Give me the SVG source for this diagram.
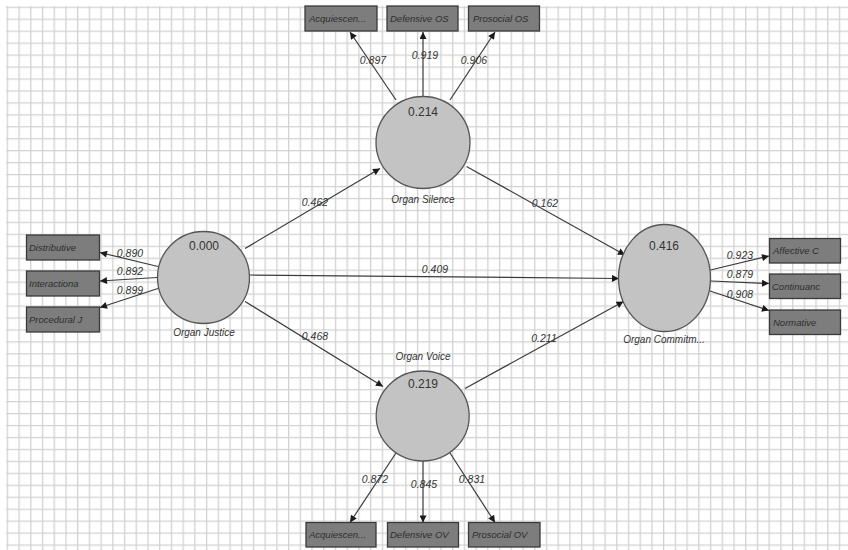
<svg xmlns="http://www.w3.org/2000/svg" width="848" height="550" viewBox="0 0 848 550">
<defs>
<pattern id="grid" x="6.7" y="6.7" width="11.72" height="11.95" patternUnits="userSpaceOnUse">
<path d="M0.6 0 V11.95 M0 0.6 H11.72" fill="none" stroke="#d2d2d2" stroke-width="1.4"/>
</pattern>
<marker id="ah" viewBox="0 0 10 10" refX="10" refY="5" markerWidth="8" markerHeight="7" markerUnits="userSpaceOnUse" orient="auto">
<path d="M0 0 L10 5 L0 10 Z" fill="#1a1a1a"/>
</marker>
<style>
.lat{fill:#c3c3c3;stroke:#555;stroke-width:1.3}
.ind{fill:#7d7d7d;stroke:#3a3a3a;stroke-width:1.3}
.it{font-family:"Liberation Sans",Arial,sans-serif;font-size:9.5px;font-style:italic;fill:#2e2e2e}
.val{font-family:"Liberation Sans",Arial,sans-serif;font-size:12px;fill:#333;text-anchor:middle}
.lbl{font-family:"Liberation Sans",Arial,sans-serif;font-size:10px;font-style:italic;fill:#333;text-anchor:middle}
.coef{font-family:"Liberation Sans",Arial,sans-serif;font-size:10.5px;font-style:italic;fill:#333;text-anchor:middle}
.c{fill:none;stroke:#3a3a3a;stroke-width:1.2;marker-end:url(#ah)}
</style>
</defs>
<rect width="848" height="550" fill="#ffffff"/>
<rect x="6" y="6" width="842" height="544" fill="url(#grid)"/>

<g id="connectors">
<line class="c" x1="396" y1="100" x2="350" y2="32"/>
<line class="c" x1="423" y1="96" x2="423" y2="32"/>
<line class="c" x1="450" y1="100" x2="495" y2="32"/>
<line class="c" x1="158" y1="266.5" x2="100" y2="252.5"/>
<line class="c" x1="157" y1="277.5" x2="100" y2="281"/>
<line class="c" x1="158" y1="288.5" x2="100" y2="307.5"/>
<line class="c" x1="710.5" y1="270" x2="769" y2="256"/>
<line class="c" x1="711" y1="281" x2="769" y2="283.5"/>
<line class="c" x1="710" y1="291" x2="769" y2="310.5"/>
<line class="c" x1="396" y1="453" x2="350" y2="522.5"/>
<line class="c" x1="423" y1="461" x2="423" y2="522.5"/>
<line class="c" x1="450" y1="453" x2="495" y2="522.5"/>
<line class="c" x1="245" y1="248.5" x2="380" y2="168.5"/>
<line class="c" x1="466.5" y1="166.5" x2="625" y2="255"/>
<line class="c" x1="250" y1="275" x2="619" y2="278.5"/>
<line class="c" x1="245" y1="301.5" x2="383" y2="386.5"/>
<line class="c" x1="465" y1="388.5" x2="623.5" y2="301.5"/>
<text class="coef" x="373" y="64">0.897</text>
<text class="coef" x="425" y="59">0.919</text>
<text class="coef" x="474" y="64">0.906</text>
<text class="coef" x="130" y="256.5">0.890</text>
<text class="coef" x="130" y="275">0.892</text>
<text class="coef" x="130" y="293.5">0.899</text>
<text class="coef" x="740" y="258.5">0.923</text>
<text class="coef" x="740" y="278">0.879</text>
<text class="coef" x="740" y="297.5">0.908</text>
<text class="coef" x="375" y="483">0.872</text>
<text class="coef" x="424" y="488">0.845</text>
<text class="coef" x="472" y="483">0.831</text>
<text class="coef" x="315" y="205.5">0.462</text>
<text class="coef" x="545" y="207">0.162</text>
<text class="coef" x="435" y="273">0.409</text>
<text class="coef" x="315" y="340">0.468</text>
<text class="coef" x="544" y="342">0.211</text>
</g>

<g id="organ-justice">
<circle class="lat" cx="203.5" cy="277.5" r="46"/>
<text class="val" x="204" y="249.5">0.000</text>
<text class="lbl" x="204" y="336">Organ Justice</text>
</g>
<g id="organ-silence">
<ellipse class="lat" cx="423" cy="142.5" rx="47" ry="46"/>
<text class="val" x="423" y="116">0.214</text>
<text class="lbl" x="423" y="203">Organ Silence</text>
</g>
<g id="organ-voice">
<ellipse class="lat" cx="422.7" cy="416" rx="46.5" ry="45"/>
<text class="val" x="423" y="387.5">0.219</text>
<text class="lbl" x="423" y="360">Organ Voice</text>
</g>
<g id="organ-commitment">
<ellipse class="lat" cx="664.5" cy="278" rx="46" ry="53.5"/>
<text class="val" x="664" y="249.5">0.416</text>
<text class="lbl" x="664" y="343">Organ Commitm...</text>
</g>

<g id="ind-acq-os"><rect class="ind" x="305" y="6" width="72" height="25"/><text class="it" x="309" y="22">Acquiescen...</text></g>
<g id="ind-def-os"><rect class="ind" x="387" y="6" width="71" height="25"/><text class="it" x="390" y="22">Defensive OS</text></g>
<g id="ind-pro-os"><rect class="ind" x="468.5" y="6" width="71" height="25"/><text class="it" x="473" y="22">Prosocial OS</text></g>

<g id="ind-distributive"><rect class="ind" x="26.5" y="235" width="73" height="25"/><text class="it" x="29" y="251">Distributive</text></g>
<g id="ind-interactional"><rect class="ind" x="26.5" y="271" width="73" height="25"/><text class="it" x="29" y="287">Interactiona</text></g>
<g id="ind-procedural"><rect class="ind" x="26.5" y="307" width="73" height="25"/><text class="it" x="29" y="323">Procedural J</text></g>

<g id="ind-affective"><rect class="ind" x="769.5" y="238.5" width="71" height="24.5"/><text class="it" x="773" y="254">Affective C</text></g>
<g id="ind-continuance"><rect class="ind" x="769.5" y="274" width="71" height="24.5"/><text class="it" x="772" y="290">Continuanc</text></g>
<g id="ind-normative"><rect class="ind" x="769.5" y="310" width="71" height="24.5"/><text class="it" x="773" y="326">Normative</text></g>

<g id="ind-acq-ov"><rect class="ind" x="306" y="522.5" width="70" height="24.5"/><text class="it" x="309" y="538">Acquiescen...</text></g>
<g id="ind-def-ov"><rect class="ind" x="387.5" y="522.5" width="71" height="24.5"/><text class="it" x="390" y="538">Defensive OV</text></g>
<g id="ind-pro-ov"><rect class="ind" x="468.5" y="522.5" width="71.5" height="24.5"/><text class="it" x="472" y="538">Prosocial OV</text></g>
</svg>
